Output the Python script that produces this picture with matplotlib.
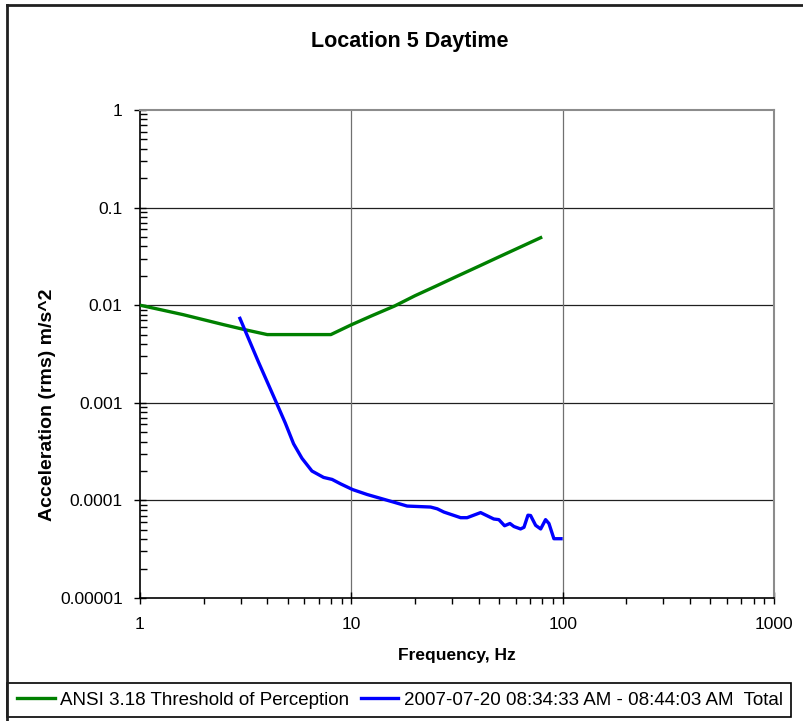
import numpy as np
import matplotlib
matplotlib.use("Agg")
import matplotlib.pyplot as plt
from matplotlib.patches import Rectangle
from matplotlib.lines import Line2D
from matplotlib.ticker import FixedLocator, FixedFormatter, LogLocator, NullFormatter

plt.rcParams['font.family'] = ['Liberation Sans', 'DejaVu Sans']

# ANSI 3.18 threshold of perception (1/3 octave bands)
freq_ansi = [1, 1.25, 1.6, 2, 2.5, 3.15, 4, 5, 6.3, 8, 10, 12.5, 16, 20, 25, 31.5, 40, 50, 63, 80]
acc_ansi = [0.01, 0.009, 0.008, 0.0071, 0.0063, 0.0056, 0.005, 0.005, 0.005, 0.005,
            0.0063, 0.0078, 0.0098, 0.0125, 0.0156, 0.0197, 0.025, 0.0313, 0.0394, 0.05]

# measured total, 2007-07-20 08:34:33 - 08:44:03
freq_meas = [2.95, 3.64, 4.44, 4.87, 5.33, 5.84, 6.51, 7.39, 8.11, 8.88, 10.15, 11.87, 15.86,
             18.36, 23.7, 25.5, 27.4, 32.9, 35.3, 40.9, 47.2, 49.9, 53.1, 56.3, 58.8, 63.2,
             65.6, 68.5, 70.5, 74.5, 78.7, 83.0, 86.1, 90.9, 100]
acc_meas = [7.6e-3, 2.6e-3, 9.8e-4, 6.2e-4, 3.8e-4, 2.7e-4, 2.0e-4, 1.72e-4, 1.64e-4, 1.48e-4,
            1.29e-4, 1.15e-4, 9.6e-5, 8.75e-5, 8.55e-5, 8.2e-5, 7.6e-5, 6.65e-5, 6.65e-5,
            7.5e-5, 6.45e-5, 6.35e-5, 5.5e-5, 5.8e-5, 5.4e-5, 5.1e-5, 5.3e-5, 7.05e-5,
            7.0e-5, 5.55e-5, 5.1e-5, 6.35e-5, 5.8e-5, 4.05e-5, 4.05e-5]

xticks = [1, 10, 100, 1000]
xticklabels = ['1', '10', '100', '1000']
yticks = [1e-5, 1e-4, 1e-3, 1e-2, 1e-1, 1]
yticklabels = ['0.00001', '0.0001', '0.001', '0.01', '0.1', '1']

label_ansi = 'ANSI 3.18 Threshold of Perception'
label_meas = '2007-07-20 08:34:33 AM - 08:44:03 AM  Total'

fig = plt.figure(figsize=(8.04, 7.21), dpi=100)
ax = fig.add_axes([140/804, 1-598/721, 634/804, 488/721])

ax.plot(freq_ansi, acc_ansi, color='#008000', lw=2.4, solid_capstyle='butt', zorder=3)
ax.plot(freq_meas, acc_meas, color='#0000FF', lw=2.4, solid_capstyle='butt', zorder=3)

ax.set_xscale('log')
ax.set_yscale('log')
ax.set_xlim(1, 1000)
ax.set_ylim(1e-5, 1)

ax.xaxis.set_major_locator(FixedLocator(xticks))
ax.xaxis.set_major_formatter(FixedFormatter(xticklabels))
ax.yaxis.set_major_locator(FixedLocator(yticks))
ax.yaxis.set_major_formatter(FixedFormatter(yticklabels))
ax.xaxis.set_minor_locator(LogLocator(base=10, subs=np.arange(2, 10)))
ax.yaxis.set_minor_locator(LogLocator(base=10, subs=np.arange(2, 10)))
ax.xaxis.set_minor_formatter(NullFormatter())
ax.yaxis.set_minor_formatter(NullFormatter())

ax.tick_params(axis='both', which='major', direction='inout', length=9, width=1,
               labelsize=12.5, color='black')
ax.tick_params(axis='y', which='minor', direction='in', length=5, width=1)
ax.tick_params(axis='x', which='minor', direction='out', length=4, width=1)
ax.tick_params(axis='y', which='major', pad=8)
ax.tick_params(axis='x', which='major', pad=9)

for y in yticks[1:-1]:
    ax.axhline(y, color='#202020', lw=0.9, zorder=1)
for x in xticks[1:-1]:
    ax.axvline(x, color='#707070', lw=0.9, zorder=1)

ax.spines['left'].set_color('black')
ax.spines['bottom'].set_color('black')
ax.spines['left'].set_linewidth(1.2)
ax.spines['bottom'].set_linewidth(1.2)
ax.spines['top'].set_color('#8c8c8c')
ax.spines['right'].set_color('#8c8c8c')
ax.spines['top'].set_linewidth(1.5)
ax.spines['right'].set_linewidth(1.5)

ax.set_xlabel('Frequency, Hz', fontsize=12.5, fontweight='bold', labelpad=12)
ax.set_ylabel('Acceleration (rms) m/s^2', fontsize=14, fontweight='bold')
ax.yaxis.set_label_coords(-0.133, 0.395)
fig.text(410/804, 1-42/721, 'Location 5 Daytime', ha='center', va='center',
         fontsize=15.5, fontweight='bold')

# outer border of the chart
fig.add_artist(Line2D([7/804, 1], [1-5/721, 1-5/721], color='#202020', lw=2,
                      transform=fig.transFigure))
fig.add_artist(Line2D([7/804, 7/804], [0, 1-5/721], color='#202020', lw=2,
                      transform=fig.transFigure))

# legend box along the bottom
fig.add_artist(Rectangle((7/804, 1-717/721), 784/804, 34/721, transform=fig.transFigure,
                         fill=False, edgecolor='black', lw=1.2))
handles = [Line2D([], [], color='#008000', lw=2.4), Line2D([], [], color='#0000FF', lw=2.4)]
fig.legend(handles, [label_ansi, label_meas], loc='center',
           bbox_to_anchor=(400/804, 1-700/721), ncol=2, frameon=False, fontsize=13.5,
           handlelength=2.0, handletextpad=0.3, columnspacing=0.6, borderpad=0)

fig.savefig('out.png', dpi=100)
